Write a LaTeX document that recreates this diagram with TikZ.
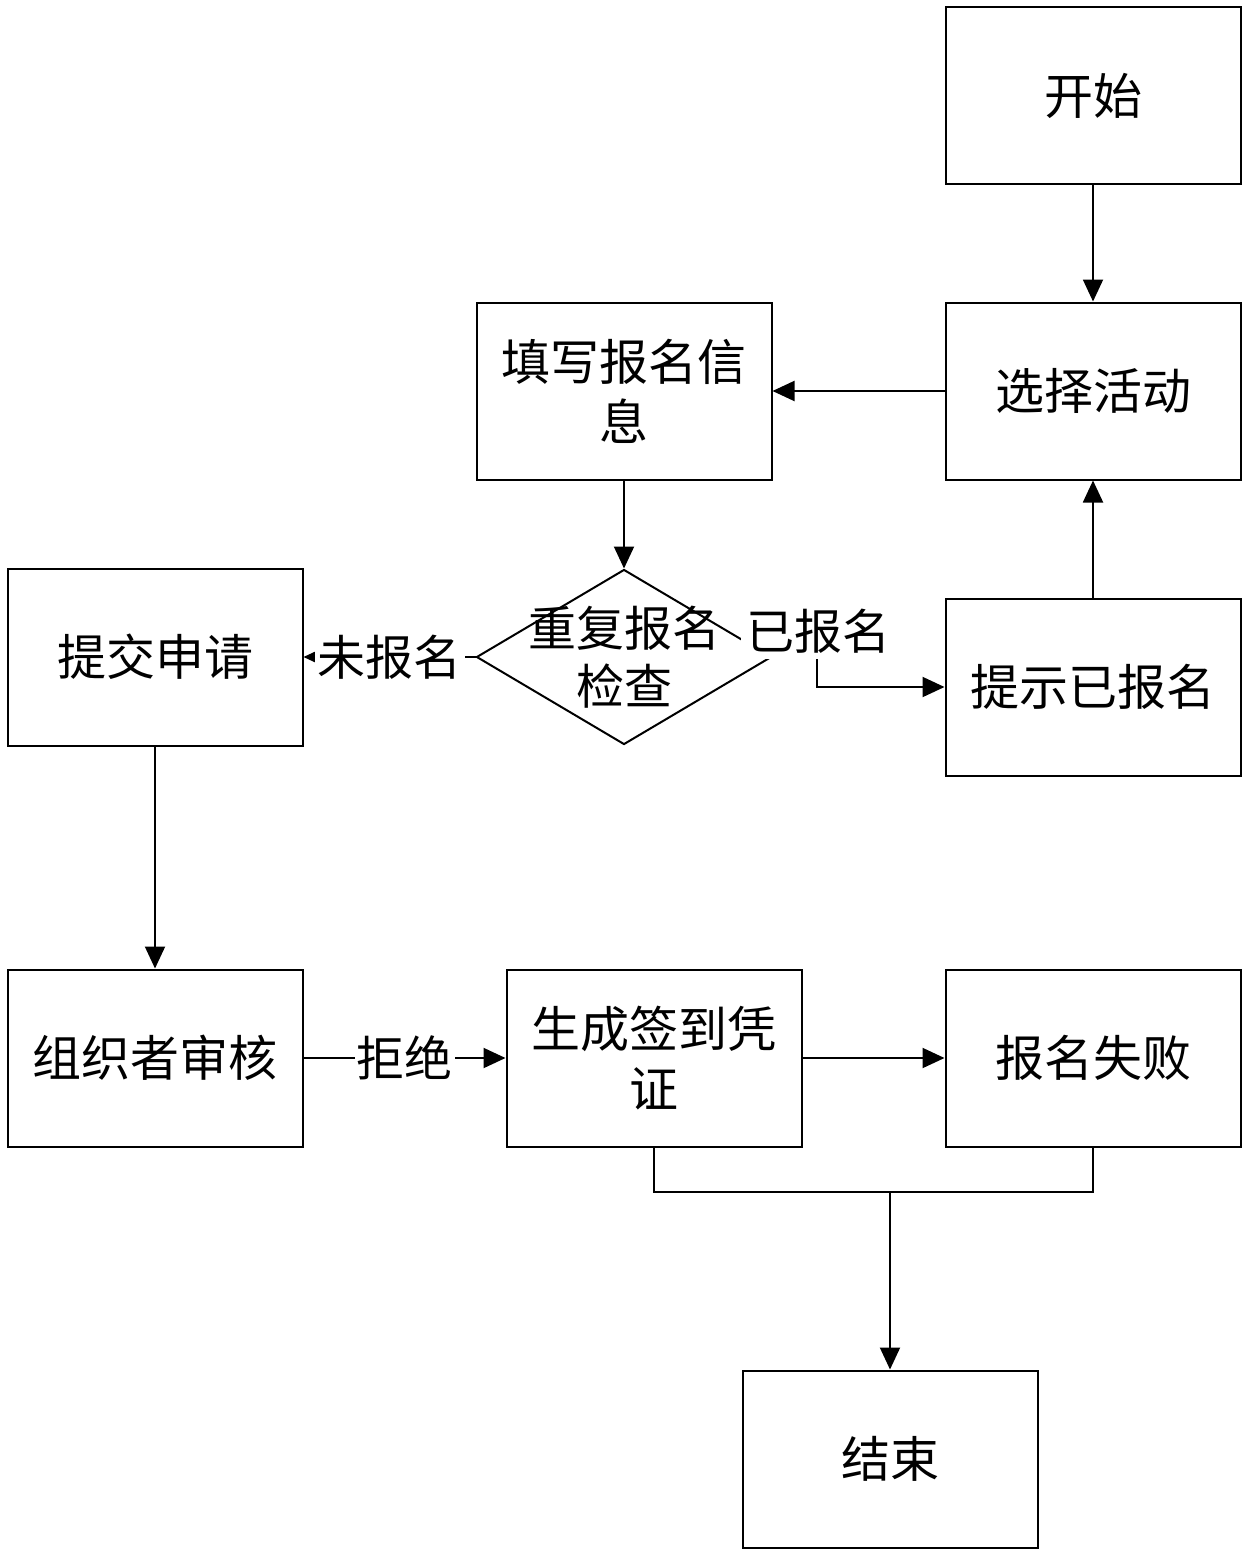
\documentclass[tikz,border=0pt]{standalone}
\usepackage{fontspec}
\setmainfont{Noto Sans CJK SC}
\usetikzlibrary{arrows.meta,shapes.geometric}
\begin{document}
\begin{tikzpicture}[x=1pt,y=-1pt,line width=2pt,
  box/.style={draw,rectangle,minimum width=295pt,minimum height=177pt,inner sep=0pt,align=center,font=\fontsize{49}{60}\selectfont},
  arr/.style={-{Triangle[length=22pt,width=20pt]}},
  lbl/.style={fill=white,inner xsep=3pt,inner ysep=6pt,font=\fontsize{48}{56}\selectfont},
  txt/.style={align=center,font=\fontsize{48}{58}\selectfont,inner sep=0pt}]
\useasboundingbox (0,0) rectangle (1247,1554);
\node[box] (start) at (1093,96) {开始};
\node[box] (select) at (1093,391) {选择活动};
\node[box] (fill) at (624,391) {填写报名信\\息};
\node[box] (submit) at (155,657) {提交申请};
\node[draw,diamond,minimum width=295pt,minimum height=175pt,inner sep=0pt,text=white] (check) at (624,657) {};
\node[txt] (checkt) at (624,657) {重复报名\\检查};
\node[box] (hint) at (1093,687) {提示已报名};
\node[box] (org) at (155,1058) {组织者审核};
\node[box] (gen) at (654,1058) {生成签到凭\\证};
\node[box] (fail) at (1093,1058) {报名失败};
\node[box] (end) at (890,1459) {结束};
\coordinate (k) at (817,657);
\coordinate (j) at (890,1192);
\draw[arr] (start) -- (select);
\draw[arr] (select) -- (fill);
\draw[arr] (fill) -- (check.north);
\draw[arr] (check.west) -- (submit.east) node[lbl,pos=0.5] (wbm) {未报名};
\draw[arr] (check.east) -- (k) |- (hint.west);
\node[lbl,inner xsep=5pt] (ybm) at (818,631) {已报名};
\draw[arr] (hint) -- (select);
\draw[arr] (submit) -- (org);
\draw[arr] (org) -- (gen) node[lbl,midway,inner xsep=2pt] (jj) {拒绝};
\draw[arr] (gen) -- (fail);
\draw (gen.south) |- (j) -| (fail.south);
\draw[arr] (j) -- (end);
\end{tikzpicture}
\end{document}
